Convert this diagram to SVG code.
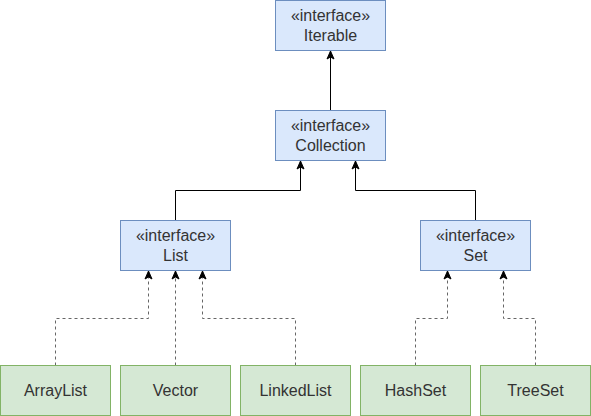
<svg xmlns="http://www.w3.org/2000/svg" width="591" height="416" viewBox="0 0 591 416">
<style>
.iface rect{fill:#dae8fc;stroke:#6c8ebf;stroke-width:1}
.cls rect{fill:#d5e8d4;stroke:#82b366;stroke-width:1}
text{font-family:"Liberation Sans",Arial,sans-serif;font-size:16px;fill:#333;text-anchor:middle}
.solid{fill:none;stroke:#000;stroke-width:1}
.dash{fill:none;stroke:#666;stroke-width:1;stroke-dasharray:3 3}
</style>
<defs>
<marker id="arr" markerUnits="userSpaceOnUse" markerWidth="10" markerHeight="10" viewBox="0 0 10 10" refX="9" refY="5" orient="auto">
<path d="M1,1.5 L9,5 L1,8.5 L3,5 Z" fill="#000" stroke="#000" stroke-width="1"/>
</marker>
</defs>
<rect width="591" height="416" fill="#fff"/>
<g id="connectors">
<path class="solid" d="M330.5,110.5 V51" marker-end="url(#arr)"/>
<path class="solid" d="M175.5,220.5 V190.5 H300.5 V161" marker-end="url(#arr)"/>
<path class="solid" d="M475.5,220.5 V190.5 H355.5 V161" marker-end="url(#arr)"/>
<path class="dash" d="M55.5,365.5 V318.5 H148.5 V271" marker-end="url(#arr)"/>
<path class="dash" d="M175.5,365.5 V271" marker-end="url(#arr)"/>
<path class="dash" d="M295.5,365.5 V318.5 H202.5 V271" marker-end="url(#arr)"/>
<path class="dash" d="M415.5,365.5 V318.5 H447.5 V271" marker-end="url(#arr)"/>
<path class="dash" d="M535.5,365.5 V318.5 H503.5 V271" marker-end="url(#arr)"/>
</g>
<g id="iterable" class="iface"><rect x="275.5" y="0.5" width="110" height="50"/><text x="330.5" y="21">«interface»</text><text x="330.5" y="40.5">Iterable</text></g>
<g id="collection" class="iface"><rect x="275.5" y="110.5" width="110" height="50"/><text x="330.5" y="131">«interface»</text><text x="330.5" y="150.5">Collection</text></g>
<g id="list" class="iface"><rect x="120.5" y="220.5" width="110" height="50"/><text x="175.5" y="241">«interface»</text><text x="175.5" y="260.5">List</text></g>
<g id="set" class="iface"><rect x="420.5" y="220.5" width="110" height="50"/><text x="475.5" y="241">«interface»</text><text x="475.5" y="260.5">Set</text></g>
<g id="arraylist" class="cls"><rect x="0.5" y="365.5" width="110" height="50"/><text x="55.5" y="396">ArrayList</text></g>
<g id="vector" class="cls"><rect x="120.5" y="365.5" width="110" height="50"/><text x="175.5" y="396">Vector</text></g>
<g id="linkedlist" class="cls"><rect x="240.5" y="365.5" width="110" height="50"/><text x="295.5" y="396">LinkedList</text></g>
<g id="hashset" class="cls"><rect x="360.5" y="365.5" width="110" height="50"/><text x="415.5" y="396">HashSet</text></g>
<g id="treeset" class="cls"><rect x="480.5" y="365.5" width="110" height="50"/><text x="535.5" y="396">TreeSet</text></g>
</svg>
